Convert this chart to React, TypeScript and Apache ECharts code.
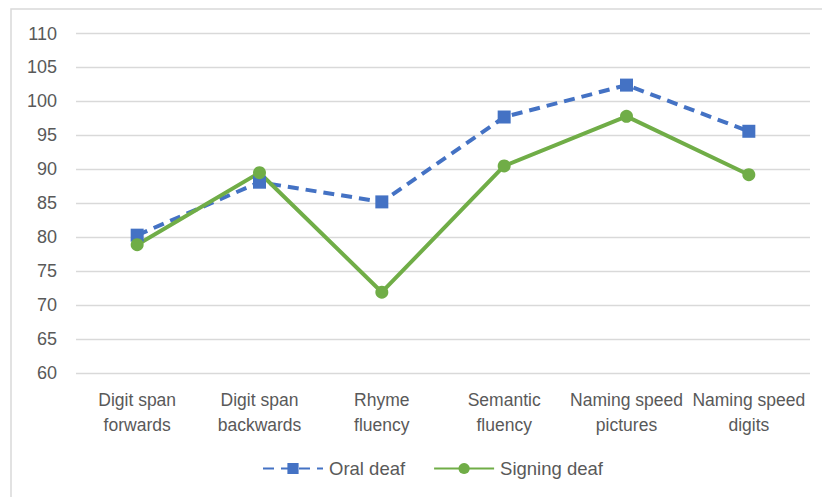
import React, { useEffect, useRef } from "react";
import * as echarts from "echarts";

const categories = [
  "Digit span\nforwards",
  "Digit span\nbackwards",
  "Rhyme\nfluency",
  "Semantic\nfluency",
  "Naming speed\npictures",
  "Naming speed\ndigits",
];
const oralDeaf = [80.3, 88.1, 85.2, 97.7, 102.4, 95.6];
const signingDeaf = [78.9, 89.5, 71.9, 90.5, 97.8, 89.2];

const FONT = "'Liberation Sans', Arial, sans-serif";
const TXT = "#595959";

export default function App() {
  const ref = useRef<HTMLDivElement>(null);
  useEffect(() => {
    const chart = echarts.init(ref.current!, null, { renderer: "svg" });
    chart.setOption({
      animation: false,
      backgroundColor: "#ffffff",
      textStyle: { fontFamily: FONT },
      graphic: [
        {
          type: "rect",
          shape: { x: 11, y: 9, width: 830, height: 500 },
          style: { fill: "none", stroke: "#D9D9D9", lineWidth: 1.5 },
          silent: true,
        },
      ],
      grid: { left: 76, right: 12, top: 33.5, bottom: 124, containLabel: false },
      legend: {
        bottom: 14,
        left: 257,
        itemWidth: 60,
        itemHeight: 14,
        itemGap: 28,
        textStyle: { color: TXT, fontSize: 18.5, fontFamily: FONT, padding: [0, 0, 0, 1] },
        data: ["Oral deaf", "Signing deaf"],
      },
      xAxis: {
        type: "category",
        data: categories,
        boundaryGap: true,
        axisLine: { show: false },
        axisTick: { show: false },
        axisLabel: {
          interval: 0,
          color: TXT,
          fontSize: 17.5,
          fontFamily: FONT,
          lineHeight: 25,
          margin: 14,
        },
      },
      yAxis: {
        type: "value",
        min: 60,
        max: 110,
        interval: 5,
        axisLine: { show: false },
        axisTick: { show: false },
        splitLine: { lineStyle: { color: "#D9D9D9", width: 1.3 } },
        axisLabel: { color: TXT, fontSize: 18, fontFamily: FONT, margin: 19 },
      },
      series: [
        {
          name: "Oral deaf",
          type: "line",
          data: oralDeaf,
          symbol: "rect",
          symbolSize: 13,
          itemStyle: { color: "#4472C4" },
          lineStyle: { color: "#4472C4", width: 4, type: [11, 7] },
        },
        {
          name: "Signing deaf",
          type: "line",
          data: signingDeaf,
          symbol: "circle",
          symbolSize: 13,
          itemStyle: { color: "#70AD47" },
          lineStyle: { color: "#70AD47", width: 4 },
        },
      ],
    });
    return () => chart.dispose();
  }, []);
  return (
    <div
      ref={ref}
      style={{ position: "absolute", left: 0, top: 0, width: 822, height: 497 }}
    />
  );
}
